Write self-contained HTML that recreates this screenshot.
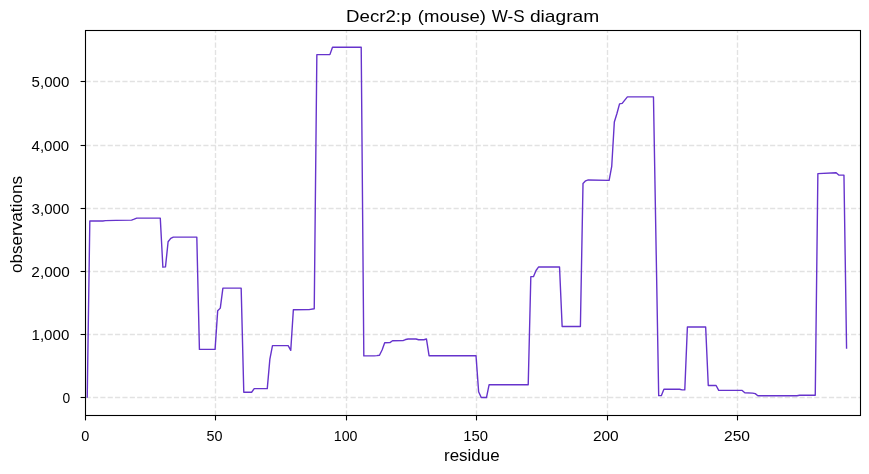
<!DOCTYPE html>
<html><head><meta charset="utf-8"><title>Decr2:p (mouse) W-S diagram</title>
<style>html,body{margin:0;padding:0;background:#fff;}body{width:869px;height:474px;overflow:hidden;}svg{display:block;will-change:transform;}text{font-family:"Liberation Sans",sans-serif;fill:#000;}</style></head><body>
<svg width="869" height="474" viewBox="0 0 869 474">
<rect x="0" y="0" width="869" height="474" fill="#ffffff"/>
<g stroke="#e2e2e2" stroke-width="1.39" stroke-dasharray="5.14 2.22" fill="none">
<line x1="85.6" y1="397.5" x2="860.5" y2="397.5"/>
<line x1="85.6" y1="334.5" x2="860.5" y2="334.5"/>
<line x1="85.6" y1="271.5" x2="860.5" y2="271.5"/>
<line x1="85.6" y1="208.5" x2="860.5" y2="208.5"/>
<line x1="85.6" y1="145.5" x2="860.5" y2="145.5"/>
<line x1="85.6" y1="81.5" x2="860.5" y2="81.5"/>
<line x1="215.5" y1="415.7" x2="215.5" y2="30.5"/>
<line x1="346.5" y1="415.7" x2="346.5" y2="30.5"/>
<line x1="476.5" y1="415.7" x2="476.5" y2="30.5"/>
<line x1="607.5" y1="415.7" x2="607.5" y2="30.5"/>
<line x1="737.5" y1="415.7" x2="737.5" y2="30.5"/>
</g>
<polyline points="87.21,397.75 89.82,220.98 102.87,220.98 105.48,220.66 115.91,220.35 131.57,220.16 134.18,219.21 136.79,218.14 160.28,218.14 162.88,267.18 165.49,266.93 168.10,241.77 170.71,238.36 173.32,237.10 196.81,237.10 199.42,349.40 215.07,349.40 217.68,310.85 220.29,308.13 222.90,288.16 241.17,288.16 243.78,392.25 251.61,392.25 254.22,388.59 267.26,388.59 269.87,359.07 272.48,345.67 288.14,345.67 290.75,350.35 293.36,309.78 309.02,309.59 314.24,308.76 316.85,54.64 329.89,54.64 332.50,47.18 361.21,47.18 363.82,355.91 374.25,355.85 376.86,355.66 379.47,355.22 382.08,349.97 384.69,342.77 389.91,342.58 392.52,340.74 402.96,340.62 405.57,339.54 408.18,338.97 416.01,338.97 418.62,339.73 423.84,339.73 426.44,338.97 429.05,355.72 476.02,355.79 478.63,391.75 481.24,397.56 486.46,397.56 489.07,384.79 528.22,384.79 530.82,276.66 533.43,276.66 536.04,270.47 538.65,266.93 559.53,266.93 562.14,326.46 580.40,326.46 583.01,183.38 585.62,180.85 588.23,179.96 609.11,180.34 611.72,166.44 614.33,122.01 616.94,113.54 619.55,103.87 622.16,103.43 624.77,100.08 627.38,96.92 653.47,96.92 658.69,395.66 661.30,395.66 663.91,389.22 679.57,389.22 682.18,389.85 684.79,389.85 687.39,327.03 705.66,327.03 708.27,385.49 716.10,385.49 718.71,390.42 742.19,390.42 744.80,392.69 752.63,393.07 755.24,393.64 757.85,395.73 796.99,395.73 799.60,395.22 815.26,395.22 817.87,173.64 836.14,172.76 838.75,175.03 843.96,175.16 846.57,348.83" fill="none" stroke="#6633cc" stroke-width="1.39" stroke-linejoin="round" stroke-linecap="butt"/>
<rect x="85.5" y="30.5" width="775" height="385" fill="none" stroke="#000" stroke-width="1.1"/>
<g stroke="#000" stroke-width="1.1">
<line x1="85.5" y1="415.5" x2="85.5" y2="420.4"/>
<line x1="215.5" y1="415.5" x2="215.5" y2="420.4"/>
<line x1="346.5" y1="415.5" x2="346.5" y2="420.4"/>
<line x1="476.5" y1="415.5" x2="476.5" y2="420.4"/>
<line x1="607.5" y1="415.5" x2="607.5" y2="420.4"/>
<line x1="737.5" y1="415.5" x2="737.5" y2="420.4"/>
<line x1="85.5" y1="397.5" x2="80.6" y2="397.5"/>
<line x1="85.5" y1="334.5" x2="80.6" y2="334.5"/>
<line x1="85.5" y1="271.5" x2="80.6" y2="271.5"/>
<line x1="85.5" y1="208.5" x2="80.6" y2="208.5"/>
<line x1="85.5" y1="145.5" x2="80.6" y2="145.5"/>
<line x1="85.5" y1="81.5" x2="80.6" y2="81.5"/>
</g>
<text x="81.34" y="441.05" font-size="14.3" textLength="8.08" lengthAdjust="spacingAndGlyphs">0</text>
<text x="206.40" y="441.05" font-size="14.3" textLength="16.01" lengthAdjust="spacingAndGlyphs">50</text>
<text x="333.76" y="441.05" font-size="14.3" textLength="23.74" lengthAdjust="spacingAndGlyphs">100</text>
<text x="463.22" y="441.05" font-size="14.3" textLength="24.80" lengthAdjust="spacingAndGlyphs">150</text>
<text x="592.92" y="441.05" font-size="14.3" textLength="25.81" lengthAdjust="spacingAndGlyphs">200</text>
<text x="724.02" y="441.05" font-size="14.3" textLength="26.02" lengthAdjust="spacingAndGlyphs">250</text>
<text x="62.52" y="402.9" font-size="14.3" textLength="7.67" lengthAdjust="spacingAndGlyphs">0</text>
<text x="31.56" y="339.9" font-size="14.3" textLength="37.72" lengthAdjust="spacingAndGlyphs">1,000</text>
<text x="31.38" y="276.9" font-size="14.3" textLength="38.30" lengthAdjust="spacingAndGlyphs">2,000</text>
<text x="31.63" y="213.9" font-size="14.3" textLength="37.64" lengthAdjust="spacingAndGlyphs">3,000</text>
<text x="31.62" y="150.8" font-size="14.3" textLength="37.41" lengthAdjust="spacingAndGlyphs">4,000</text>
<text x="31.63" y="86.9" font-size="14.3" textLength="37.64" lengthAdjust="spacingAndGlyphs">5,000</text>
<text x="346.04" y="21.65" font-size="17.0" textLength="65.36" lengthAdjust="spacingAndGlyphs">Decr2:p</text>
<text x="417.88" y="21.65" font-size="17.0" textLength="68.03" lengthAdjust="spacingAndGlyphs">(mouse)</text>
<text x="491.75" y="21.65" font-size="17.0" textLength="32.82" lengthAdjust="spacingAndGlyphs">W-S</text>
<text x="529.95" y="21.65" font-size="17.0" textLength="69.19" lengthAdjust="spacingAndGlyphs">diagram</text>
<text x="443.99" y="460.7" font-size="15.9" textLength="55.65" lengthAdjust="spacingAndGlyphs">residue</text>
<text transform="translate(21.9,272.7) rotate(-90)" x="-0.28" y="0" font-size="16.2" textLength="96.97" lengthAdjust="spacingAndGlyphs">observations</text>
</svg></body></html>
